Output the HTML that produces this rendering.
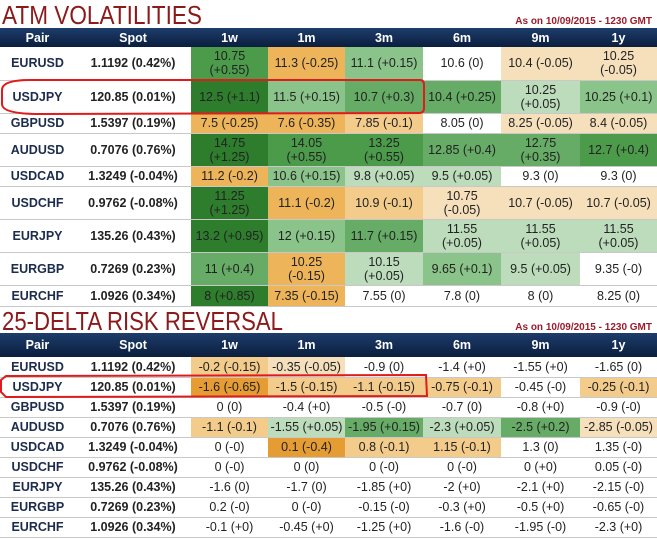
<!DOCTYPE html>
<html><head><meta charset="utf-8">
<style>
html,body{margin:0;padding:0;background:#fff;width:657px;height:539px;overflow:hidden;position:relative;font-family:"Liberation Sans",sans-serif}
.title{position:absolute;left:0;margin:0}
.asof{position:absolute;right:5px;font-size:10px;font-weight:bold;color:#9b1c2c}
table{position:absolute;left:0;border-collapse:collapse;table-layout:fixed;width:657px}
th{background:linear-gradient(#1d3d6b,#0b1e3e);color:#fff;font-size:12.5px;font-weight:bold;padding:0;text-align:center}
td{padding:0;text-align:center;font-size:12.5px;color:#222;border-bottom:1px solid #c8c8c8;line-height:14px;white-space:normal}
td.pair{font-weight:bold;color:#1c2c4c}
td.spot{font-weight:bold;color:#222}
.G4{background:#2d7d2d}.G3{background:#4b9b4b}.G2{background:#66ac66}.G1{background:#8bc48b}.G0{background:#bcdcbc}
.O3{background:#e59c32}.O2{background:#eeb45a}.O1{background:#f3cc8c}.O0{background:#f6e0bc}.W{background:#fff}
svg.ov{position:absolute;left:0;top:0;pointer-events:none}
</style></head><body>
<svg class="title" width="210" height="28" style="top:0"><text x="2" y="24" font-family="Liberation Sans, sans-serif" font-size="26" fill="#8b1a1a" textLength="200" lengthAdjust="spacingAndGlyphs">ATM VOLATILITIES</text></svg>
<div class="asof" style="top:16px">As on 10/09/2015 - 1230 GMT</div>
<table id="atm" style="top:28px"></table>
<svg class="title" width="300" height="28" style="top:306px"><text x="2" y="24" font-family="Liberation Sans, sans-serif" font-size="26" fill="#8b1a1a" textLength="281" lengthAdjust="spacingAndGlyphs">25-DELTA RISK REVERSAL</text></svg>
<div class="asof" style="top:322px">As on 10/09/2015 - 1230 GMT</div>
<table id="rr" style="top:333px"></table>
<svg class="ov" width="657" height="539">
<path d="M30,80 L420,80 Q424,80 424,85 L424,108 Q424,113 419,113 L40,114 Q2,114 2,104 L2,90 Q2,80 30,80 Z" fill="none" stroke="#e01b1b" stroke-width="2"/>
<path d="M6,376 L426,375 L427,396 L6,397 L1,392 L1,380 Z" fill="none" stroke="#e01b1b" stroke-width="2"/>
</svg>
<script>
const pairs=["EURUSD","USDJPY","GBPUSD","AUDUSD","USDCAD","USDCHF","EURJPY","EURGBP","EURCHF"];
const spots=["1.1192 (0.42%)","120.85 (0.01%)","1.5397 (0.19%)","0.7076 (0.76%)","1.3249 (-0.04%)","0.9762 (-0.08%)","135.26 (0.43%)","0.7269 (0.23%)","1.0926 (0.34%)"];
const tenors=["1w","1m","3m","6m","9m","1y"];
const atmVals=[
["10.75 (+0.55)","11.3 (-0.25)","11.1 (+0.15)","10.6 (0)","10.4 (-0.05)","10.25 (-0.05)"],
["12.5 (+1.1)","11.5 (+0.15)","10.7 (+0.3)","10.4 (+0.25)","10.25 (+0.05)","10.25 (+0.1)"],
["7.5 (-0.25)","7.6 (-0.35)","7.85 (-0.1)","8.05 (0)","8.25 (-0.05)","8.4 (-0.05)"],
["14.75 (+1.25)","14.05 (+0.55)","13.25 (+0.55)","12.85 (+0.4)","12.75 (+0.35)","12.7 (+0.4)"],
["11.2 (-0.2)","10.6 (+0.15)","9.8 (+0.05)","9.5 (+0.05)","9.3 (0)","9.3 (0)"],
["11.25 (+1.25)","11.1 (-0.2)","10.9 (-0.1)","10.75 (-0.05)","10.7 (-0.05)","10.7 (-0.05)"],
["13.2 (+0.95)","12 (+0.15)","11.7 (+0.15)","11.55 (+0.05)","11.55 (+0.05)","11.55 (+0.05)"],
["11 (+0.4)","10.25 (-0.15)","10.15 (+0.05)","9.65 (+0.1)","9.5 (+0.05)","9.35 (-0)"],
["8 (+0.85)","7.35 (-0.15)","7.55 (0)","7.8 (0)","8 (0)","8.25 (0)"]];
const atmWrap=[[1,0,0,0,0,1],[0,0,0,0,1,0],[0,0,0,0,0,0],[1,1,1,0,1,0],[0,0,0,0,0,0],[1,0,0,1,0,0],[0,0,0,1,1,1],[0,1,1,0,0,0],[0,0,0,0,0,0]];
const atmCls=[["G3","O2","G1","W","O0","O0"],["G4","G1","G2","G2","G0","G1"],["O2","O2","O1","W","O0","O0"],["G4","G3","G3","G2","G2","G3"],["O2","G1","G0","G0","W","W"],["G4","O2","O1","O0","O0","O0"],["G4","G1","G2","G0","G0","G0"],["G2","O2","G0","G1","G0","W"],["G4","O2","W","W","W","W"]];
const atmH=[33,33,20,33,20,33,33,33,21];
const rrVals=[
["-0.2 (-0.15)","-0.35 (-0.05)","-0.9 (0)","-1.4 (+0)","-1.55 (+0)","-1.65 (0)"],
["-1.6 (-0.65)","-1.5 (-0.15)","-1.1 (-0.15)","-0.75 (-0.1)","-0.45 (-0)","-0.25 (-0.1)"],
["0 (0)","-0.4 (+0)","-0.5 (-0)","-0.7 (0)","-0.8 (+0)","-0.9 (-0)"],
["-1.1 (-0.1)","-1.55 (+0.05)","-1.95 (+0.15)","-2.3 (+0.05)","-2.5 (+0.2)","-2.85 (-0.05)"],
["0 (-0)","0.1 (-0.4)","0.8 (-0.1)","1.15 (-0.1)","1.3 (0)","1.35 (-0)"],
["0 (-0)","0 (0)","0 (-0)","0 (-0)","0 (+0)","0.05 (-0)"],
["-1.6 (0)","-1.7 (0)","-1.85 (+0)","-2 (+0)","-2.1 (+0)","-2.15 (-0)"],
["0.2 (-0)","0 (-0)","-0.15 (-0)","-0.3 (+0)","-0.5 (+0)","-0.65 (-0)"],
["-0.1 (+0)","-0.45 (+0)","-1.25 (+0)","-1.6 (-0)","-1.95 (-0)","-2.3 (+0)"]];
const rrCls=[["O1","O0","W","W","W","W"],["O3","O1","O1","O1","W","O1"],["W","W","W","W","W","W"],["O1","G0","G2","G0","G2","O0"],["W","O3","O1","O1","W","W"],["W","W","W","W","W","W"],["W","W","W","W","W","W"],["W","W","W","W","W","W"],["W","W","W","W","W","W"]];
const widths=[75,116,77,77,78,78,79,77];

function build(id,vals,cls,wrap,rowH,headH,prefix){
  const t=document.getElementById(id);
  const cg=document.createElement('colgroup');
  widths.forEach(w=>{const c=document.createElement('col');c.style.width=w+'px';cg.appendChild(c);});
  t.appendChild(cg);
  const hr=document.createElement('tr');hr.style.height=headH+'px';
  ["Pair","Spot"].concat(tenors).forEach(h=>{
    const th=document.createElement('th');th.textContent=h;
    
    
    hr.appendChild(th);});
  t.appendChild(hr);
  pairs.forEach((p,i)=>{
    const tr=document.createElement('tr');tr.style.height=(rowH?rowH[i]:20)+'px';
    
    
    const a=document.createElement('td');a.className='pair';a.textContent=p;
    
    
    tr.appendChild(a);
    const s=document.createElement('td');s.className='spot';s.textContent=spots[i];
    
    
    tr.appendChild(s);
    vals[i].forEach((v,j)=>{
      const td=document.createElement('td');td.className=cls[i][j];
      if(wrap&&wrap[i][j]){const k=v.indexOf(' (');td.innerHTML=v.slice(0,k)+'<br>'+v.slice(k+1);}
      else td.textContent=v;
      
      
      tr.appendChild(td);});
    t.appendChild(tr);});
}
build('atm',atmVals,atmCls,atmWrap,atmH,19,'atm');
build('rr',rrVals,rrCls,null,null,24,'rr');
</script>
</body></html>
